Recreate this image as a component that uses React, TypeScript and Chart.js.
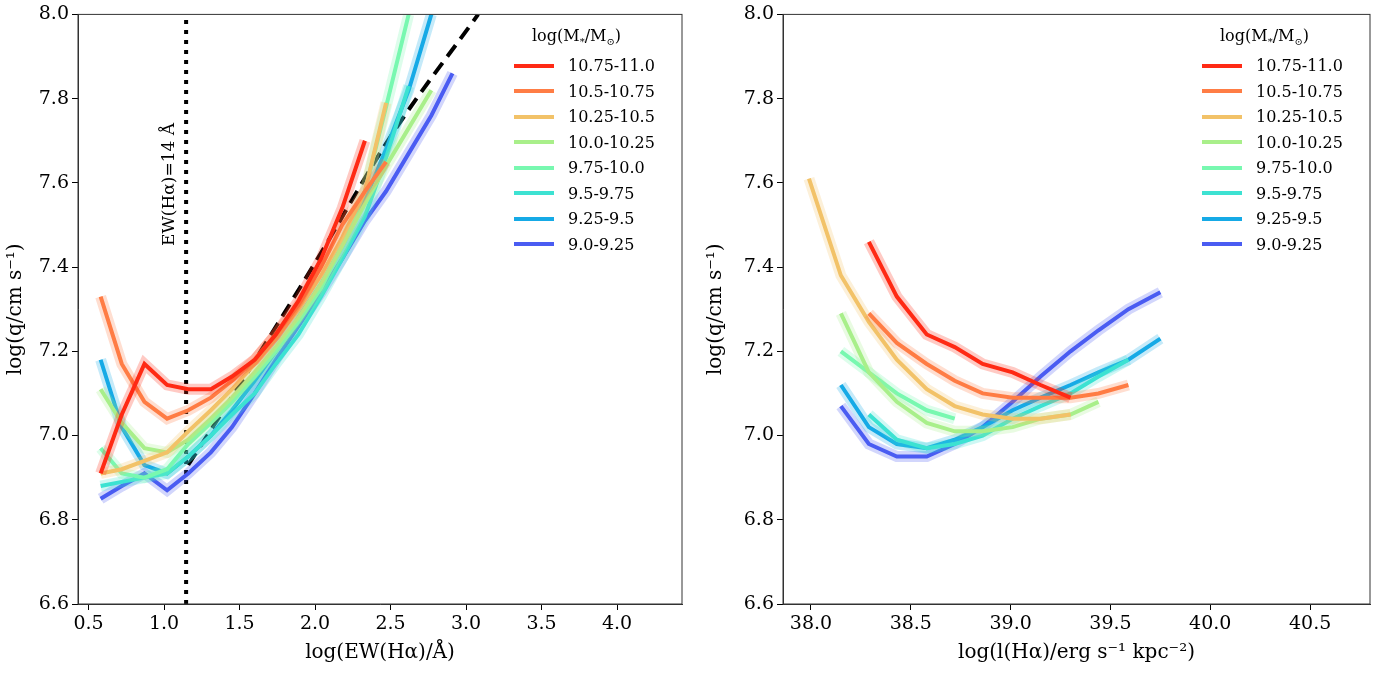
import { useEffect, useRef } from 'react'
import Chart from 'chart.js/auto'

const massBins = ['10.75-11.0', '10.5-10.75', '10.25-10.5', '10.0-10.25', '9.75-10.0', '9.5-9.75', '9.25-9.5', '9.0-9.25']
const colors = ['#ff2a15', '#ff7d45', '#f2c268', '#a9ef8a', '#78f8b0', '#3de2d2', '#16aae6', '#4a5cf2']

// left panel: log EW(Ha)
const ewX = [0.58, 0.72, 0.87, 1.02, 1.16, 1.31, 1.45, 1.6, 1.74, 1.89, 2.04, 2.18, 2.33, 2.47, 2.62, 2.77, 2.91]
const ewQ = [
  [6.91, 7.05, 7.17, 7.12, 7.11, 7.11, 7.14, 7.18, 7.24, 7.32, 7.42, 7.54, 7.70],
  [7.33, 7.17, 7.08, 7.04, 7.06, 7.09, 7.13, 7.18, 7.24, 7.31, 7.40, 7.50, 7.58, 7.65],
  [6.91, 6.92, 6.94, 6.96, 7.01, 7.06, 7.11, 7.17, 7.23, 7.30, 7.38, 7.47, 7.58, 7.79],
  [7.11, 7.03, 6.97, 6.96, 6.99, 7.04, 7.09, 7.15, 7.21, 7.28, 7.36, 7.45, 7.55, 7.64, 7.73, 7.82],
  [6.97, 6.91, 6.90, 6.92, 6.98, 7.03, 7.08, 7.14, 7.20, 7.27, 7.35, 7.45, 7.58, 7.78, 8.0],
  [6.88, 6.89, 6.90, 6.91, 6.95, 7.00, 7.05, 7.10, 7.17, 7.24, 7.33, 7.42, 7.52, 7.66, 7.83],
  [7.18, 7.02, 6.93, 6.91, 6.95, 7.00, 7.06, 7.13, 7.20, 7.28, 7.36, 7.45, 7.56, 7.68, 7.82, 8.0],
  [6.85, 6.88, 6.91, 6.87, 6.91, 6.96, 7.02, 7.10, 7.18, 7.26, 7.34, 7.42, 7.51, 7.58, 7.67, 7.76, 7.86],
]
const fitX = [1.16, 1.5, 2.0, 2.5, 3.08]
const fitQ = [6.93, 7.12, 7.41, 7.71, 8.0]
const ewCut = 1.146

// right panel: log l(Ha)
const lumX = [37.99, 38.15, 38.29, 38.43, 38.58, 38.72, 38.86, 39.01, 39.15, 39.3, 39.44, 39.59, 39.75]
const lumStart = [2, 2, 0, 1, 1, 2, 1, 1]
const lumQ = [
  [7.46, 7.33, 7.24, 7.21, 7.17, 7.15, 7.12, 7.09],
  [7.29, 7.22, 7.17, 7.13, 7.10, 7.09, 7.09, 7.09, 7.10, 7.12],
  [7.61, 7.38, 7.27, 7.18, 7.11, 7.07, 7.05, 7.04, 7.04, 7.05],
  [7.29, 7.15, 7.08, 7.03, 7.01, 7.01, 7.02, 7.04, 7.05, 7.08],
  [7.20, 7.15, 7.10, 7.06, 7.04],
  [7.05, 6.99, 6.97, 6.98, 7.00, 7.04, 7.07, 7.10, 7.14, 7.18],
  [7.12, 7.02, 6.98, 6.97, 6.99, 7.02, 7.06, 7.09, 7.12, 7.15, 7.18, 7.23],
  [7.07, 6.98, 6.95, 6.95, 6.98, 7.02, 7.08, 7.14, 7.20, 7.25, 7.30, 7.34],
]

const font = "'DejaVu Serif', serif"

const boxPlugin = {
  id: 'box',
  afterDraw(chart: any) {
    const { ctx, chartArea: a } = chart
    ctx.save()
    ctx.strokeStyle = '#333'
    ctx.lineWidth = 1
    ctx.strokeRect(a.left, a.top, a.right - a.left, a.bottom - a.top)
    ctx.restore()
  },
}

function makeDatasets(series: { x: number; y: number }[][]) {
  const sets: any[] = []
  series.forEach((pts, i) => {
    sets.push({ data: pts, borderColor: colors[i] + '40', borderWidth: 11, pointRadius: 0, tension: 0 })
    sets.push({ data: pts, borderColor: colors[i], borderWidth: 4, pointRadius: 0, tension: 0 })
  })
  return sets
}

function makeOptions(xmin: number, xmax: number, xticks: number[], xtitle: string, yWidth: number, padRight: number) {
  const tickFont = { family: font, size: 19 }
  return {
    animation: false,
    responsive: false,
    layout: { padding: { top: 12, right: padRight, left: 0, bottom: 9 } },
    plugins: { legend: { display: false }, tooltip: { enabled: false } },
    scales: {
      x: {
        type: 'linear', min: xmin, max: xmax,
        afterBuildTicks: (s: any) => { s.ticks = xticks.map(v => ({ value: v })) },
        afterFit: (s: any) => { s.height = 65 },
        ticks: { color: '#000', font: tickFont, callback: (v: any) => Number(v).toFixed(1), maxRotation: 0 },
        grid: { drawOnChartArea: false, tickLength: 6, color: '#000' },
        border: { color: '#333' },
        title: { display: true, text: xtitle, color: '#000', font: { family: font, size: 20 }, padding: { top: 0 } },
      },
      y: {
        min: 6.6, max: 8.0,
        afterBuildTicks: (s: any) => { s.ticks = [6.6, 6.8, 7.0, 7.2, 7.4, 7.6, 7.8, 8.0].map(v => ({ value: v })) },
        afterFit: (s: any) => { s.width = yWidth },
        ticks: { color: '#000', font: tickFont, callback: (v: any) => Number(v).toFixed(1) },
        grid: { drawOnChartArea: false, tickLength: 6, color: '#000' },
        border: { color: '#333' },
        title: { display: true, text: 'log(q/cm s\u207B\u00B9)', color: '#000', font: { family: font, size: 20 }, padding: { bottom: 2 } },
      },
    },
  }
}

function Legend({ left, top }: { left: number; top: number }) {
  return (
    <div style={{ position: 'absolute', left, top, fontFamily: font, fontSize: 16, color: '#000' }}>
      <div style={{ marginLeft: 18, marginBottom: 6 }}>log(M<sub style={{ fontSize: 10 }}>*</sub>/M<sub style={{ fontSize: 10 }}>⊙</sub>)</div>
      {massBins.map((b, i) => (
        <div key={b} style={{ display: 'flex', alignItems: 'center', height: 25.5 }}>
          <div style={{ width: 40, height: 4, background: colors[i], marginRight: 14 }} />
          <span>{b}</span>
        </div>
      ))}
    </div>
  )
}

export default function App() {
  const leftRef = useRef<HTMLCanvasElement>(null)
  const rightRef = useRef<HTMLCanvasElement>(null)

  useEffect(() => {
    if (!leftRef.current || !rightRef.current) return
    const ewSeries = ewQ.map(ys => ys.map((y, j) => ({ x: ewX[j], y })))
    const leftSets = makeDatasets(ewSeries)
    leftSets.push({ data: fitX.map((x, j) => ({ x, y: fitQ[j] })), borderColor: '#000', borderWidth: 4, borderDash: [14, 8], pointRadius: 0, cubicInterpolationMode: 'monotone' })
    leftSets.push({ data: [{ x: ewCut, y: 6.6 }, { x: ewCut, y: 8.0 }], borderColor: '#000', borderWidth: 4, borderDash: [4, 6], pointRadius: 0 })
    const annot = {
      id: 'annot',
      afterDraw(chart: any) {
        const { ctx } = chart
        const x = chart.scales.x.getPixelForValue(ewCut) - 17
        const y = chart.scales.y.getPixelForValue(7.45)
        ctx.save()
        ctx.translate(x, y)
        ctx.rotate(-Math.PI / 2)
        ctx.font = `17px ${font}`
        ctx.fillStyle = '#000'
        ctx.textBaseline = 'middle'
        ctx.fillText('EW(H\u03B1)=14 \u00C5', 0, 0)
        ctx.restore()
      },
    }
    const left = new Chart(leftRef.current, {
      type: 'line',
      data: { datasets: leftSets },
      options: makeOptions(0.43, 4.43, [0.5, 1.0, 1.5, 2.0, 2.5, 3.0, 3.5, 4.0], 'log(EW(H\u03B1)/\u00C5)', 78, 8) as any,
      plugins: [boxPlugin, annot],
    })

    const lumSeries = lumQ.map((ys, i) => ys.map((y, j) => ({ x: lumX[lumStart[i] + j], y })))
    const right = new Chart(rightRef.current, {
      type: 'line',
      data: { datasets: makeDatasets(lumSeries) },
      options: makeOptions(37.86, 40.8, [38.0, 38.5, 39.0, 39.5, 40.0, 40.5], 'log(l(H\u03B1)/erg s\u207B\u00B9 kpc\u207B\u00B2)', 83, 17) as any,
      plugins: [boxPlugin],
    })
    return () => { left.destroy(); right.destroy() }
  }, [])

  return (
    <div style={{ position: 'fixed', left: 0, top: 0, width: 1387, height: 678, background: '#fff' }}>
      <canvas ref={leftRef} width={690} height={678} style={{ position: 'absolute', left: 0, top: 0 }} />
      <canvas ref={rightRef} width={687} height={678} style={{ position: 'absolute', left: 700, top: 0 }} />
      <Legend left={514} top={26} />
      <Legend left={1202} top={26} />
    </div>
  )
}
